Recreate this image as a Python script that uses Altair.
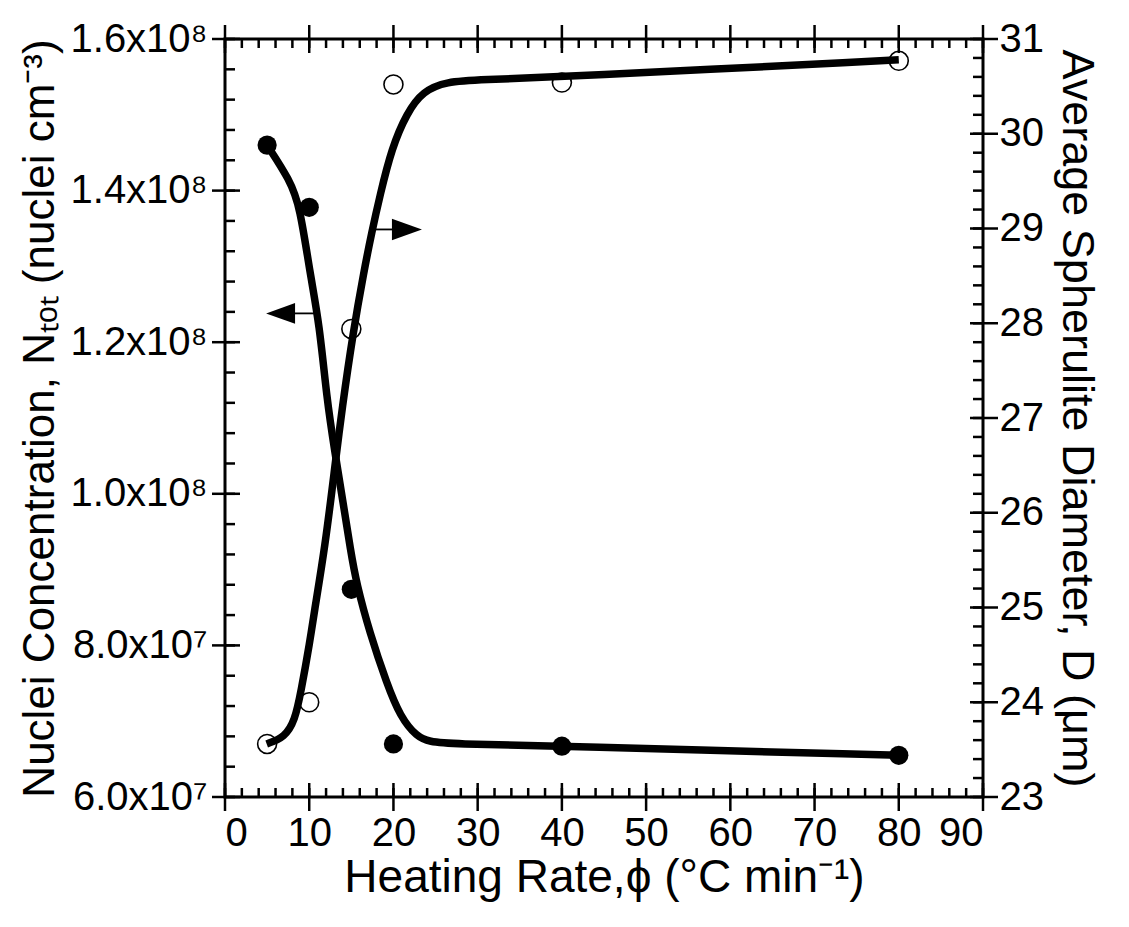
import altair as alt
import pandas as pd

# Measured data points
x_pts = [5, 10, 15, 20, 40, 80]
n_pts = [1.46e8, 1.378e8, 8.74e7, 6.70e7, 6.67e7, 6.55e7]
d_pts = [23.56, 24.0, 27.94, 30.52, 30.54, 30.77]

# Fitted curves
n_curve_x = [5.0, 7.7, 8.9, 10.1, 11.2, 12.1, 13.0, 14.0, 14.9, 15.6, 17.2, 19.2, 20.8, 22.8, 24.3, 26.7, 40, 80]
n_curve_y = [1.46e8, 1.414e8, 1.379e8, 1.29e8, 1.225e8, 1.124e8, 1.058e8, 9.9e7, 9.26e7, 8.82e7,
             8.16e7, 7.50e7, 7.06e7, 6.79e7, 6.73e7, 6.70e7, 6.67e7, 6.55e7]
d_curve_x = [4.95, 7.1, 8.3, 9.0, 10.1, 10.5, 11.9, 13.06, 13.9, 15.2, 16.5, 17.4, 18.4, 19.8, 21.6, 23.5, 26.3, 30.3, 40, 80]
d_curve_y = [23.56, 23.63, 23.81, 24.1, 24.65, 24.90, 25.65, 26.5, 27.1, 27.9, 28.55, 28.95, 29.35,
             29.85, 30.22, 30.45, 30.55, 30.57, 30.6, 30.78]

# Tick values
x_major = list(range(0, 91, 10))
x_minor = list(range(0, 91, 2))
left_major = [6e7, 8e7, 1.0e8, 1.2e8, 1.4e8, 1.6e8]
left_minor = [6e7 + i * 4e6 for i in range(26)]
right_major = list(range(23, 32))
right_minor = [round(23 + i * 0.2, 1) for i in range(41)]

# Arrow annotations (data units)
arrow_l = {"tip_x": 6.6, "line_x": 8.3, "line_x2": 10.7, "y": 1.238e8}
arrow_r = {"tip_x": 21.6, "line_x": 17.8, "line_x2": 20.0, "y": 28.99}

W, H = 758, 758
FONT = "Liberation Sans"

xs = alt.Scale(domain=[0, 90], nice=False, zero=False)
ys_l = alt.Scale(domain=[6e7, 1.6e8], nice=False, zero=False)
ys_r = alt.Scale(domain=[23, 31], nice=False, zero=False)

x_axis = alt.Axis(values=x_major, ticks=False, domain=False, grid=False, labelFontSize=40,
                  labelPadding=16, labelFont=FONT, labelColor="black",
                  title="Heating Rate,ϕ  (°C min⁻¹)", titleFontSize=46, titleFont=FONT,
                  titleFontWeight="normal", titleColor="black", titlePadding=2)

left_axis = alt.Axis(values=left_major, ticks=False, domain=False, grid=False, orient="left",
                     labelFontSize=40, labelPadding=18, labelFont=FONT, labelColor="black",
                     labelExpr="datum.value < 1e8 ? format(datum.value/1e7,'.1f') + 'x10⁷' : format(datum.value/1e8,'.1f') + 'x10⁸'",
                     title="Nuclei Concentration, Nₜₒₜ (nuclei cm⁻³)", titleFontSize=44, titleFont=FONT,
                     titleFontWeight="normal", titleColor="black", titlePadding=8)

right_axis = alt.Axis(values=right_major, ticks=False, domain=False, grid=False, orient="right",
                      format="d",
                      labelFontSize=40, labelPadding=16, labelFont=FONT, labelColor="black",
                      title="Average Spherulite Diameter, D (μm)", titleFontSize=45, titleFont=FONT,
                      titleFontWeight="normal", titleColor="black", titlePadding=10)

pts_df = pd.DataFrame({"x": x_pts, "n": n_pts, "d": d_pts})
ncurve_df = pd.DataFrame({"x": n_curve_x, "n": n_curve_y})
dcurve_df = pd.DataFrame({"x": d_curve_x, "d": d_curve_y})

# ---------- left-scale layer ----------
n_line = alt.Chart(ncurve_df).mark_line(color="black", strokeWidth=7.5, interpolate="basis").encode(
    x=alt.X("x:Q", scale=xs, axis=x_axis),
    y=alt.Y("n:Q", scale=ys_l, axis=left_axis),
)
n_points = alt.Chart(pts_df).mark_point(filled=True, color="black", size=370, opacity=1, shape="circle").encode(
    x=alt.X("x:Q", scale=xs), y=alt.Y("n:Q", scale=ys_l)
)

xmaj_df = pd.DataFrame({"x": x_major})
xmin_df = pd.DataFrame({"x": x_minor})
lmaj_df = pd.DataFrame({"v": left_major})
lmin_df = pd.DataFrame({"v": left_minor})

tick_style = dict(color="black", strokeWidth=2.5)
x_maj_b = alt.Chart(xmaj_df).mark_rule(**tick_style).encode(
    x=alt.X("x:Q", scale=xs), y=alt.value(H - 14), y2=alt.value(H + 14))
x_maj_t = alt.Chart(xmaj_df).mark_rule(**tick_style).encode(
    x=alt.X("x:Q", scale=xs), y=alt.value(-14), y2=alt.value(14))
x_min_b = alt.Chart(xmin_df).mark_rule(**tick_style).encode(
    x=alt.X("x:Q", scale=xs), y=alt.value(H - 9), y2=alt.value(H))
x_min_t = alt.Chart(xmin_df).mark_rule(**tick_style).encode(
    x=alt.X("x:Q", scale=xs), y=alt.value(0), y2=alt.value(9))
l_maj = alt.Chart(lmaj_df).mark_rule(**tick_style).encode(
    y=alt.Y("v:Q", scale=ys_l), x=alt.value(-13), x2=alt.value(15))
l_min = alt.Chart(lmin_df).mark_rule(**tick_style).encode(
    y=alt.Y("v:Q", scale=ys_l), x=alt.value(0), x2=alt.value(10))

arl_df = pd.DataFrame([arrow_l])
arl_line = alt.Chart(arl_df).mark_rule(color="black", strokeWidth=1.8).encode(
    x=alt.X("line_x:Q", scale=xs), x2="line_x2:Q", y=alt.Y("y:Q", scale=ys_l))
arl_head = alt.Chart(arl_df).mark_point(filled=True, color="black", opacity=1, size=840,
                                        shape="M-1,0L1,-0.72L1,0.72Z").encode(
    x=alt.X("tip_x:Q", scale=xs), y=alt.Y("y:Q", scale=ys_l))

left_layer = alt.layer(n_line, n_points, x_maj_b, x_maj_t, x_min_b, x_min_t, l_maj, l_min,
                       arl_line, arl_head)

# ---------- right-scale layer ----------
d_line = alt.Chart(dcurve_df).mark_line(color="black", strokeWidth=7.5, interpolate="basis").encode(
    x=alt.X("x:Q", scale=xs),
    y=alt.Y("d:Q", scale=ys_r, axis=right_axis),
)
d_points = alt.Chart(pts_df).mark_point(filled=False, color="black", size=360, strokeWidth=1.6,
                                        shape="circle", opacity=1).encode(
    x=alt.X("x:Q", scale=xs), y=alt.Y("d:Q", scale=ys_r)
)
rmaj_df = pd.DataFrame({"v": right_major})
rmin_df = pd.DataFrame({"v": right_minor})
r_maj = alt.Chart(rmaj_df).mark_rule(**tick_style).encode(
    y=alt.Y("v:Q", scale=ys_r), x=alt.value(W - 13), x2=alt.value(W + 15))
r_min = alt.Chart(rmin_df).mark_rule(**tick_style).encode(
    y=alt.Y("v:Q", scale=ys_r), x=alt.value(W - 10), x2=alt.value(W))

arr_df = pd.DataFrame([arrow_r])
arr_line = alt.Chart(arr_df).mark_rule(color="black", strokeWidth=1.8).encode(
    x=alt.X("line_x:Q", scale=xs), x2="line_x2:Q", y=alt.Y("y:Q", scale=ys_r))
arr_head = alt.Chart(arr_df).mark_point(filled=True, color="black", opacity=1, size=900,
                                        shape="M1,0L-1,-0.72L-1,0.72Z").encode(
    x=alt.X("tip_x:Q", scale=xs), y=alt.Y("y:Q", scale=ys_r))

right_layer = alt.layer(d_line, d_points, r_maj, r_min, arr_line, arr_head)

chart = alt.layer(left_layer, right_layer).resolve_scale(y="independent").properties(
    width=W, height=H,
    autosize=alt.AutoSizeParams(type="none"),
    padding={"left": 225, "top": 39, "right": 146, "bottom": 130},
    background="white",
).configure_view(stroke="black", strokeWidth=3)

chart.save("out.html", embed_options={"renderer": "svg", "actions": False})
